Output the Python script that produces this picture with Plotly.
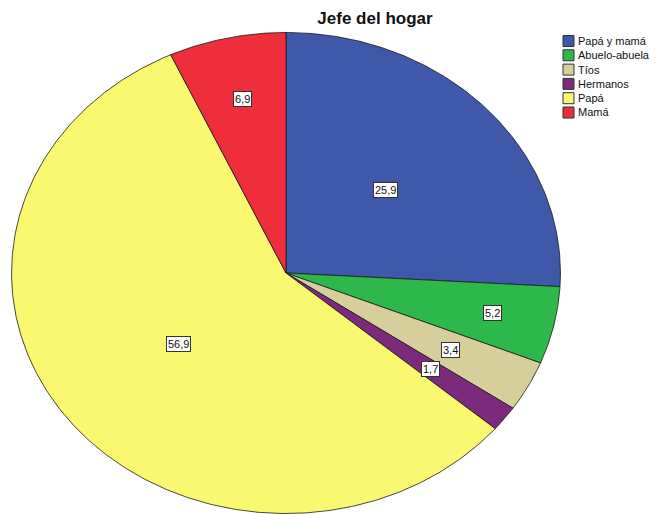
import numpy as np
import plotly.graph_objects as go

# ---- data ----
categories = ["Papá y mamá", "Abuelo-abuela", "Tíos", "Hermanos", "Papá", "Mamá"]
values = [25.9, 5.2, 3.4, 1.7, 56.9, 6.9]
value_labels = ["25,9", "5,2", "3,4", "1,7", "56,9", "6,9"]
title_text = "Jefe del hogar"

# ---- style ----
colors = ["#3F58AA", "#2DB84B", "#D6CF9C", "#7B2A7D", "#FAF771", "#EE2E3A"]
label_radius = [0.50, 0.77, 0.68, 0.66, 0.49, 0.74]

W, H = 662, 514
L, R, T, B = 11, 101, 32, 0
plot_w, plot_h = W - L - R, H - T - B

fig = go.Figure()
total = sum(values)
cum = np.concatenate([[0], np.cumsum(values)]) / total

for i, cat in enumerate(categories):
    n = max(int((cum[i + 1] - cum[i]) * 720), 8)
    t = np.linspace(cum[i], cum[i + 1], n) * 2 * np.pi
    xs = np.concatenate([[0], np.sin(t), [0]])
    ys = np.concatenate([[0], np.cos(t), [0]])
    fig.add_trace(go.Scatter(
        x=xs, y=ys, mode="lines", fill="toself",
        fillcolor=colors[i], line=dict(color="#1a1a1a", width=0.8),
        name=cat, showlegend=False, hoverinfo="skip"))

annotations = []
shapes = []
for i, cat in enumerate(categories):
    mid = (cum[i] + cum[i + 1]) / 2 * 2 * np.pi
    r = label_radius[i]
    annotations.append(dict(
        x=r * np.sin(mid), y=r * np.cos(mid), xref="x", yref="y",
        text=value_labels[i], showarrow=False,
        font=dict(family="Liberation Sans, Arial", size=11, color="#111"),
        bgcolor="white", bordercolor="#333", borderwidth=1, borderpad=1))

# custom legend
def px_to_paper_x(px):
    return (px - L) / plot_w

def py_to_paper_y(py):
    return (H - B - py) / plot_h

for i, cat in enumerate(categories):
    cy = 41 + 14.3 * i
    shapes.append(dict(
        type="rect", xref="paper", yref="paper",
        x0=px_to_paper_x(563), x1=px_to_paper_x(574),
        y0=py_to_paper_y(cy + 5.5), y1=py_to_paper_y(cy - 5.5),
        fillcolor=colors[i], line=dict(color="#333", width=1)))
    annotations.append(dict(
        x=px_to_paper_x(576), y=py_to_paper_y(cy), xref="paper", yref="paper",
        text=cat, showarrow=False, xanchor="left", yanchor="middle",
        font=dict(family="Liberation Sans, Arial", size=11, color="#111")))

fig.update_layout(
    width=W, height=H,
    margin=dict(l=L, r=R, t=T, b=B),
    paper_bgcolor="white", plot_bgcolor="white",
    title=dict(text="<b>" + title_text + "</b>", x=375 / W, xanchor="center",
               y=1 - 18 / H, yanchor="middle", yref="container",
               font=dict(family="Liberation Sans, Arial", size=17, color="#111")),
    xaxis=dict(range=[-1.002, 1.002], visible=False, fixedrange=True),
    yaxis=dict(range=[-1.002, 1.002], visible=False, fixedrange=True),
    annotations=annotations, shapes=shapes,
    showlegend=False,
)

fig.write_html("out.html", config=dict(displayModeBar=False),
               post_script="document.body.style.margin='0px';document.body.style.overflow='hidden';")
